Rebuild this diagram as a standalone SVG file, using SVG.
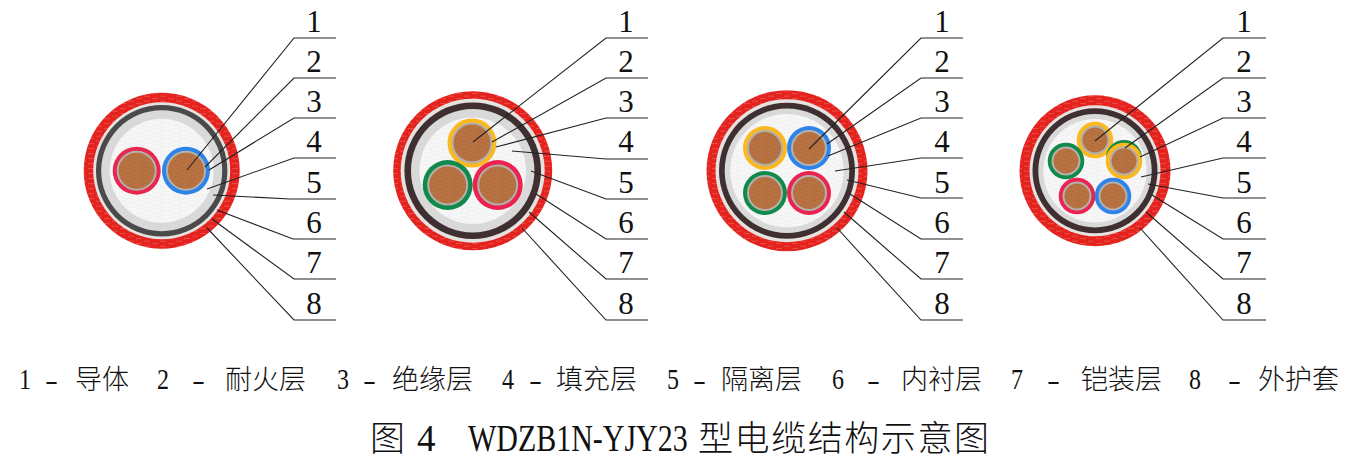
<svg xmlns="http://www.w3.org/2000/svg" width="1356" height="463" viewBox="0 0 1356 463">
<style>
text{font-family:"Liberation Serif","Noto Sans CJK SC",serif;fill:#111}
.n{font-size:31px;text-anchor:middle}
.d{font-size:30px}
.c{font-size:27px;font-weight:300}
.t{font-size:35px;font-weight:300}
.l{fill:none;stroke:#222;stroke-width:1.1}
.jacket{fill:url(#red)}
.wgap{fill:#e6e2e0}
.armor{fill:#3f2f30}
.bed{fill:#d9d9d9}
.fill{fill:url(#fil)}
.cu{fill:url(#cop);stroke:#b4b0ac;stroke-width:2}
</style>
<defs>
<pattern id="red" width="16" height="5" patternUnits="userSpaceOnUse">
<rect width="16" height="5" fill="#e4231f"/>
<path d="M0 1.2h6M8 3.6h6" stroke="#ee5550" stroke-width=".8"/>
</pattern>
<pattern id="fil" width="18" height="4" patternUnits="userSpaceOnUse">
<rect width="18" height="4" fill="#f3f3f3"/>
<path d="M1 1h9M8 3h8" stroke="#fbfbfb" stroke-width=".8"/>
</pattern>
<pattern id="cop" width="12" height="4" patternUnits="userSpaceOnUse">
<rect width="12" height="4" fill="#b56f3e"/>
<path d="M0 1h6M5 3h6" stroke="#bb7a4c" stroke-width=".7"/>
</pattern>
</defs>

<g id="cable-1">
<circle class="jacket" cx="161.7" cy="170.7" r="78"/>
<circle class="wgap" cx="161.7" cy="170.7" r="68.5"/>
<circle cx="161.7" cy="170.7" r="65.7" fill="#4a4a4a"/>
<circle class="bed" cx="161.7" cy="170.7" r="60.5"/>
<circle class="fill" cx="161.7" cy="170.7" r="52"/>
<circle cx="136.7" cy="170.7" r="24" fill="#e8264f"/><circle class="cu" cx="136.7" cy="170.7" r="19"/>
<circle cx="186" cy="170.7" r="24" fill="#2c84ea"/><circle class="cu" cx="186" cy="170.7" r="19"/>
</g>
<g id="cable-2">
<circle class="jacket" cx="472.7" cy="170.7" r="79.5"/>
<circle class="wgap" cx="472.7" cy="170.7" r="72"/>
<circle class="armor" cx="472.7" cy="170.7" r="68.3"/>
<circle class="bed" cx="472.7" cy="170.7" r="61.7"/>
<circle class="fill" cx="472.7" cy="170.7" r="53.3"/>
<circle cx="472" cy="143" r="24.5" fill="#fbb91f"/><circle class="cu" cx="472" cy="143" r="19.5"/>
<circle cx="447.7" cy="185" r="25" fill="#108a4a"/><circle class="cu" cx="447.7" cy="185" r="19.5"/>
<circle cx="497.7" cy="185" r="25" fill="#ec2350"/><circle class="cu" cx="497.7" cy="185" r="19.5"/>
</g>
<g id="cable-3">
<circle class="jacket" cx="787" cy="170.7" r="80.5"/>
<circle class="wgap" cx="787" cy="170.7" r="71.5"/>
<circle class="armor" cx="787" cy="170.7" r="68"/>
<circle class="bed" cx="787" cy="170.7" r="62.3"/>
<circle class="fill" cx="787" cy="170.7" r="56.7"/>
<circle cx="765" cy="148" r="22" fill="#fbb91f"/><circle class="cu" cx="765" cy="148" r="17"/>
<circle cx="809" cy="148" r="22" fill="#2c84ea"/><circle class="cu" cx="809" cy="148" r="17"/>
<circle cx="765" cy="193" r="22" fill="#108a4a"/><circle class="cu" cx="765" cy="193" r="17"/>
<circle cx="809" cy="193" r="22" fill="#ec2350"/><circle class="cu" cx="809" cy="193" r="17"/>
</g>
<g id="cable-4">
<circle class="jacket" cx="1095" cy="170.7" r="75.5"/>
<circle class="wgap" cx="1095" cy="170.7" r="65.5"/>
<circle class="armor" cx="1095" cy="170.7" r="62.5"/>
<circle class="bed" cx="1095" cy="170.7" r="56.7"/>
<circle class="fill" cx="1095" cy="170.7" r="51.7"/>
<circle cx="1095" cy="140" r="18.3" fill="#fbb91f"/><circle class="cu" cx="1095" cy="140" r="13.5"/>
<circle cx="1066" cy="161" r="18.3" fill="#108a4a"/><circle class="cu" cx="1066" cy="161" r="13.5"/>
<circle cx="1124" cy="158" r="18" fill="#108a4a"/>
<circle cx="1124" cy="161" r="18.3" fill="#fbb91f"/><circle class="cu" cx="1124" cy="161" r="13.5"/>
<circle cx="1077" cy="196" r="18.3" fill="#ec2350"/><circle class="cu" cx="1077" cy="196" r="13.5"/>
<circle cx="1113" cy="196" r="18.3" fill="#2c84ea"/><circle class="cu" cx="1113" cy="196" r="13.5"/>
</g>

<g id="connectors">
<path class="l" d="M336 38H294L187 170M336 78H294L205 167M336 118H294L209 170M336 158H294L207 189M336 199H290L213 195M336 239H293L217 210M336 279H294L212 219M336 320H294L207 228"/>
<path class="l" d="M648 38H606L473 142M648 78H606L492 142M648 118H606L496 147M648 159H606L512 151M648 199H606L531 171M648 239H606L536 194M648 279H606L529 212M648 320H606L522 228"/>
<path class="l" d="M963 38H921L809 149M963 78H921L827 144M963 118H921L828 156M963 158H921L835 171M963 198H921L847 180M963 239H921L850 194M963 279H921L844 212M963 320H921L837 228"/>
<path class="l" d="M1266 38H1223L1095 141M1266 78H1223L1125 148M1266 118H1223L1140 157M1266 158H1223L1141 177M1266 198H1223L1148 184M1266 239H1223L1152 195M1266 279H1223L1146 212M1266 320H1223L1140 228"/>
</g>

<g id="labels-1">
<text class="n" x="314" y="32">1</text><text class="n" x="314" y="72">2</text><text class="n" x="314" y="112">3</text><text class="n" x="314" y="152">4</text><text class="n" x="314" y="193">5</text><text class="n" x="314" y="233">6</text><text class="n" x="314" y="273">7</text><text class="n" x="314" y="314">8</text>
</g>
<g id="labels-2">
<text class="n" x="626" y="32">1</text><text class="n" x="626" y="72">2</text><text class="n" x="626" y="112">3</text><text class="n" x="626" y="152">4</text><text class="n" x="626" y="193">5</text><text class="n" x="626" y="233">6</text><text class="n" x="626" y="273">7</text><text class="n" x="626" y="314">8</text>
</g>
<g id="labels-3">
<text class="n" x="942" y="32">1</text><text class="n" x="942" y="72">2</text><text class="n" x="942" y="112">3</text><text class="n" x="942" y="152">4</text><text class="n" x="942" y="193">5</text><text class="n" x="942" y="233">6</text><text class="n" x="942" y="273">7</text><text class="n" x="942" y="314">8</text>
</g>
<g id="labels-4">
<text class="n" x="1244" y="32">1</text><text class="n" x="1244" y="72">2</text><text class="n" x="1244" y="112">3</text><text class="n" x="1244" y="152">4</text><text class="n" x="1244" y="193">5</text><text class="n" x="1244" y="233">6</text><text class="n" x="1244" y="273">7</text><text class="n" x="1244" y="314">8</text>
</g>

<g id="legend">
<text class="d" x="19" y="389" textLength="12" lengthAdjust="spacingAndGlyphs">1</text><text class="c" x="45" y="389" textLength="13" lengthAdjust="spacingAndGlyphs">-</text><text class="c" x="75" y="389">导体</text>
<text class="d" x="157" y="389" textLength="12" lengthAdjust="spacingAndGlyphs">2</text><text class="c" x="192" y="389" textLength="13" lengthAdjust="spacingAndGlyphs">-</text><text class="c" x="225" y="389">耐火层</text>
<text class="d" x="337" y="389" textLength="12" lengthAdjust="spacingAndGlyphs">3</text><text class="c" x="363" y="389" textLength="13" lengthAdjust="spacingAndGlyphs">-</text><text class="c" x="392" y="389">绝缘层</text>
<text class="d" x="502" y="389" textLength="12" lengthAdjust="spacingAndGlyphs">4</text><text class="c" x="529" y="389" textLength="13" lengthAdjust="spacingAndGlyphs">-</text><text class="c" x="556" y="389">填充层</text>
<text class="d" x="667" y="389" textLength="12" lengthAdjust="spacingAndGlyphs">5</text><text class="c" x="693" y="389" textLength="13" lengthAdjust="spacingAndGlyphs">-</text><text class="c" x="721" y="389">隔离层</text>
<text class="d" x="832" y="389" textLength="12" lengthAdjust="spacingAndGlyphs">6</text><text class="c" x="867" y="389" textLength="13" lengthAdjust="spacingAndGlyphs">-</text><text class="c" x="901" y="389">内衬层</text>
<text class="d" x="1011" y="389" textLength="12" lengthAdjust="spacingAndGlyphs">7</text><text class="c" x="1047" y="389" textLength="13" lengthAdjust="spacingAndGlyphs">-</text><text class="c" x="1081" y="389">铠装层</text>
<text class="d" x="1189" y="389" textLength="12" lengthAdjust="spacingAndGlyphs">8</text><text class="c" x="1228" y="389" textLength="13" lengthAdjust="spacingAndGlyphs">-</text><text class="c" x="1258" y="389">外护套</text>
</g>
<g id="title">
<text class="t" x="370" y="451">图</text><text x="417" y="451" font-size="37">4</text>
<text transform="translate(468 451) scale(.81 1)" font-size="37">WDZB1N-YJY23</text>
<text class="t" x="698" y="451" textLength="291">型电缆结构示意图</text>
</g>
</svg>
